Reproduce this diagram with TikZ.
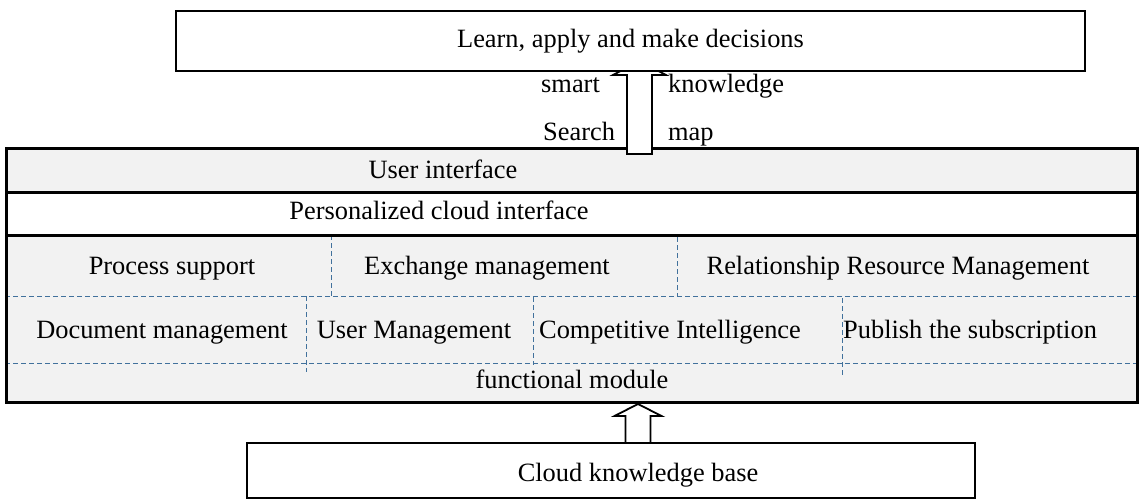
\documentclass[tikz,border=0pt]{standalone}
\usepackage{fontspec}
\setmainfont{Liberation Serif}
\usetikzlibrary{calc}
\definecolor{rowgray}{HTML}{F2F2F2}
\definecolor{divblue}{HTML}{41719C}
\begin{document}
\begin{tikzpicture}[x=1pt,y=-1pt,
  txt/.style={font=\fontsize{26.4}{30}\selectfont, inner sep=0pt, anchor=base},
  txtw/.style={txt, anchor=base west},
  frame/.style={draw=black, line width=3pt},
  divider/.style={draw=divblue, line width=1pt, dash pattern=on 5pt off 3pt},
  outerbox/.style={draw=black, fill=white, inner sep=0pt},
  blockarrow/.style={draw=black, fill=white, line width=1.8pt, line join=miter}]
\useasboundingbox (0,0) rectangle (1140,500);

% ---- layered platform ----
\node[inner sep=0pt, minimum width=1130pt, minimum height=253pt] (stack) at (572,275.5) {};
\fill[rowgray] (stack.north west) rectangle (1137,192);
\fill[white] (7,192) rectangle (1137,235);
\fill[rowgray] (7,235) rectangle (stack.south east);

% dashed cell dividers
\draw[divider] (5,296) -- (1137,296);
\draw[divider] (5,363) -- (1137,363);
\draw[divider] (331,235) -- (331,297);
\draw[divider] (677,237) -- (677,297);
\draw[divider] (306,296) -- (306,372);
\draw[divider] (533,297) -- (533,365);
\draw[divider] (842,298) -- (842,376);

% solid row separators and frame
\draw[frame] (7,192) -- (1137,192);
\draw[frame] (7,235) -- (1137,235);
\draw[frame] (stack.north west) rectangle (stack.south east);

\node[txt] (ui)  at (443,178) {User interface};
\node[txt] (pci) at (439,219) {Personalized cloud interface};
\node[txt] (ps)  at (172,274) {Process support};
\node[txt] (em)  at (487,274) {Exchange management};
\node[txt] (rrm) at (898,274) {Relationship Resource Management};
\node[txt] (dm)  at (162,338) {Document management};
\node[txt] (um)  at (414,338) {User Management};
\node[txt] (ci)  at (670,338) {Competitive Intelligence};
\node[txtw] (pub) at (843,338) {Publish the subscription};
\node[txt] (fm)  at (572,388) {functional module};

% ---- knowledge base below ----
\node[outerbox, line width=1.5pt, minimum width=728pt, minimum height=55pt] (cloud) at (611,470.5) {};
\node[txt] (cloudtxt) at (638,481) {Cloud knowledge base};

% upward block arrow: knowledge base -> functional module
\coordinate (lowtail) at (638,443);
\coordinate (lowtip) at (638,404);
\draw[blockarrow] ($(lowtail)+(-12.5,0)$) -- ($(lowtail)+(-12.5,-27)$)
  -- ($(lowtail)+(-23.5,-27)$) -- (lowtip) -- ($(lowtail)+(23.5,-27)$)
  -- ($(lowtail)+(12.5,-27)$) -- ($(lowtail)+(12.5,0)$) -- cycle;

% upward block arrow: user interface -> decisions
\coordinate (hightail) at (639.5,154);
\coordinate (hightip) at (639.5,61);
\draw[blockarrow] ($(hightail)+(-12.5,0)$) -- ($(hightail)+(-12.5,-79)$)
  -- ($(hightail)+(-26.5,-79)$) -- (hightip) -- ($(hightail)+(26.5,-79)$)
  -- ($(hightail)+(12.5,-79)$) -- ($(hightail)+(12.5,0)$) -- cycle;

\node[txtw] (smart) at (541,93)  {smart};
\node[txtw] (search) at (543,140) {Search};
\node[txtw] (know) at (668,93)  {knowledge};
\node[txtw] (map) at (668,140) {map};

% ---- top goal box ----
\node[outerbox, line width=1.8pt, minimum width=909pt, minimum height=60pt,
      font=\fontsize{26.4}{30}\selectfont] (learn) at (630.5,41) {Learn, apply and make decisions};
\end{tikzpicture}
\end{document}
